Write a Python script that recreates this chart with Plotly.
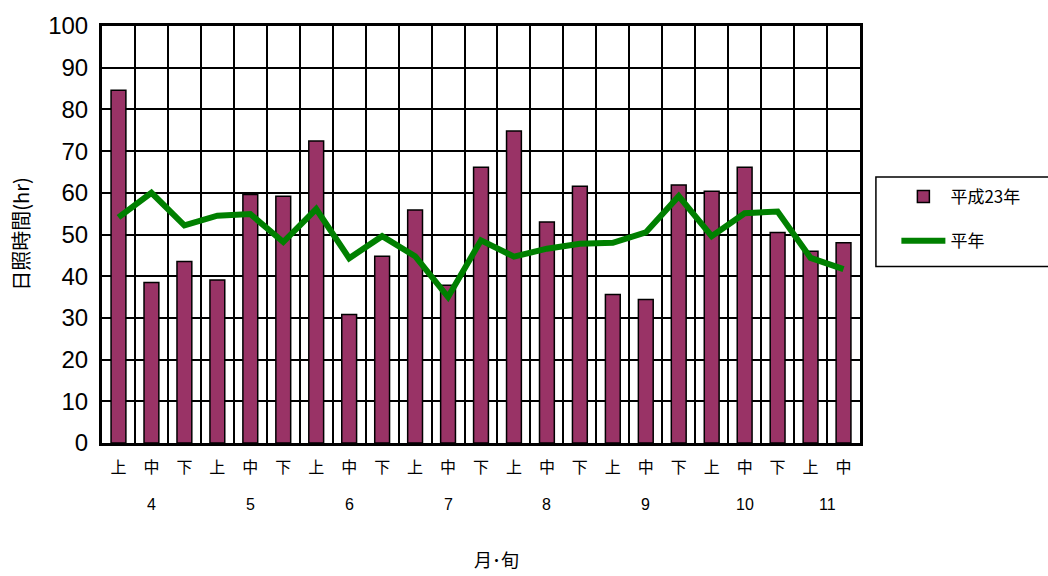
import plotly.graph_objects as go

# 旬 (ten-day periods) from April to mid-November
months = [4, 4, 4, 5, 5, 5, 6, 6, 6, 7, 7, 7, 8, 8, 8, 9, 9, 9, 10, 10, 10, 11, 11]
junes = ["上", "中", "下", "上", "中", "下", "上", "中", "下", "上", "中", "下",
         "上", "中", "下", "上", "中", "下", "上", "中", "下", "上", "中"]

# Sunshine hours, 2011 (平成23年)
sunshine_h23 = [84.6, 38.5, 43.5, 39.1, 59.6, 59.2, 72.4, 30.8, 44.8, 55.9, 37.8, 66.1,
                74.8, 53.0, 61.6, 35.6, 34.4, 61.9, 60.4, 66.1, 50.5, 46.0, 48.0]
# Normal-year sunshine hours (平年)
sunshine_normal = [54.1, 60.0, 52.2, 54.5, 54.9, 48.2, 56.1, 44.3, 49.6, 44.8, 35.0, 48.6,
                   44.7, 46.6, 47.8, 48.0, 50.5, 59.2, 49.6, 55.1, 55.5, 44.4, 41.7]

month_labels = ["4", "5", "6", "7", "8", "9", "10", "11"]

x_idx = list(range(len(junes)))

FONT = "Liberation Sans, Arial, Noto Sans CJK JP"
CJK = "Noto Sans CJK JP, Liberation Sans"

fig = go.Figure()
fig.add_trace(go.Bar(
    x=x_idx, y=sunshine_h23, name="平成23年", width=0.45, legendgroup="a",
    marker=dict(color="#993366", line=dict(color="black", width=1.5)),
))
fig.add_trace(go.Scatter(
    x=x_idx, y=sunshine_normal, name="平年", mode="lines", legendgroup="b",
    line=dict(color="#008000", width=6),
))

# month labels centred under each month's group of 旬
annotations = []
for m in month_labels:
    idxs = [i for i, mm in enumerate(months) if str(mm) == m]
    annotations.append(dict(
        x=sum(idxs) / len(idxs), y=-0.147, xref="x", yref="paper",
        text=m, showarrow=False, font=dict(family=FONT, size=16, color="black"),
        yanchor="middle", xanchor="center",
    ))
annotations.append(dict(
    x=0.521, y=-0.278, xref="paper", yref="paper", text="月･旬", showarrow=False,
    font=dict(family=CJK, size=18, color="black"), yanchor="middle", xanchor="center",
))
annotations.append(dict(
    x=-0.108, y=0.5, xref="paper", yref="paper", text="日照時間(hr)", showarrow=False,
    textangle=-90, font=dict(family=CJK, size=20, color="black"),
    yanchor="middle", xanchor="center",
))

# legend frame
shapes = [dict(
    type="rect", xref="paper", yref="paper",
    x0=1.021, x1=1.26, y0=0.423, y1=0.638,
    line=dict(color="black", width=1.5), fillcolor="rgba(0,0,0,0)",
)]

fig.update_layout(
    width=1048, height=576,
    margin=dict(l=102, r=188, t=20, b=133),
    paper_bgcolor="white", plot_bgcolor="white",
    showlegend=True,
    legend=dict(
        x=1.048, y=0.633, xanchor="left", yanchor="top",
        borderwidth=0, bgcolor="rgba(0,0,0,0)",
        font=dict(family=CJK, size=17, color="black"),
        itemwidth=44, traceorder="grouped", tracegroupgap=19,
    ),
    annotations=annotations,
    shapes=shapes,
)

fig.update_xaxes(
    range=[-0.5, len(junes) - 0.5],
    tickmode="array", tickvals=x_idx, ticktext=junes,
    tickfont=dict(family=CJK, size=16, color="black"),
    ticks="", ticklabelstandoff=8,
    showgrid=False,
    minor=dict(tickmode="array", tickvals=[i - 0.5 for i in x_idx] + [len(junes) - 0.5],
               showgrid=True, gridcolor="black", gridwidth=2, ticks=""),
    showline=True, linecolor="black", linewidth=3, mirror=True,
    zeroline=False,
)
fig.update_yaxes(
    range=[0, 100], tickmode="linear", tick0=0, dtick=10,
    tickfont=dict(family=FONT, size=24, color="black"),
    showgrid=True, gridcolor="black", gridwidth=2,
    showline=True, linecolor="black", linewidth=3, mirror=True,
    zeroline=False, ticks="", ticklabelstandoff=6,
)

fig.write_html("out.html")
